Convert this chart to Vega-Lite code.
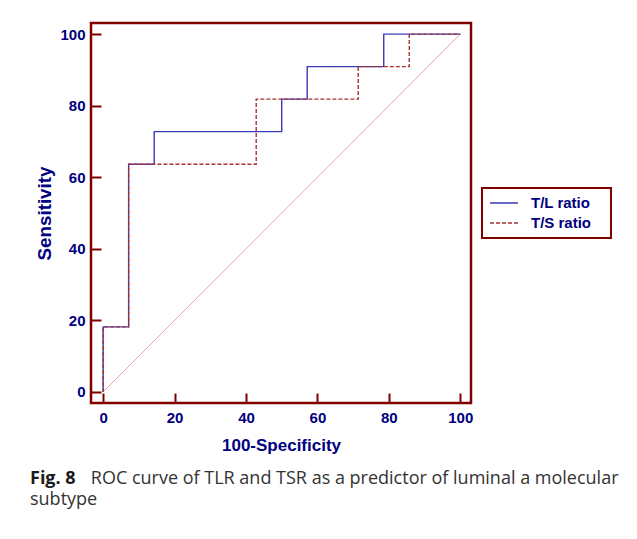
{
  "$schema": "https://vega.github.io/schema/vega-lite/v6.json",
  "autosize": "none",
  "padding": {"left": 91, "top": 23, "right": 166, "bottom": 136},
  "width": 380,
  "height": 380,
  "background": "white",
  "title": {
    "text": "Fig. 8",
    "subtitle": ["\u2060\u00a0\u00a0\u00a0\u00a0\u00a0\u00a0\u00a0\u00a0\u00a0\u00a0\u00a0\u00a0\u00a0ROC curve of TLR and TSR as a predictor of luminal a molecular", "subtype"],
    "orient": "bottom",
    "anchor": "start",
    "frame": "group",
    "dx": -61,
    "offset": 17,
    "font": "Open Sans",
    "fontSize": 18,
    "fontWeight": "bold",
    "color": "#1a1a1a",
    "subtitleFont": "Open Sans",
    "subtitleFontSize": 18,
    "subtitleFontWeight": "normal",
    "subtitleColor": "#333333",
    "subtitlePadding": -18,
    "subtitleLineHeight": 21
  },
  "config": {
    "view": {"stroke": "#800000", "strokeWidth": 2.5},
    "axis": {
      "domain": false,
      "grid": false,
      "tickColor": "#800000",
      "tickWidth": 2,
      "labelFont": "Liberation Sans",
      "labelFontSize": 15,
      "labelFontWeight": "bold",
      "labelColor": "#000080",
      "titleFont": "Liberation Sans",
      "titleFontSize": 17,
      "titleFontWeight": "bold",
      "titleColor": "#000080"
    },
    "legend": {
      "strokeColor": "#800000",
      "padding": 7,
      "symbolType": "M-2,0H2",
      "symbolSize": 196,
      "symbolStrokeWidth": 1.5,
      "symbolOffset": 7,
      "labelFont": "Liberation Sans",
      "labelFontSize": 15,
      "labelFontWeight": "bold",
      "labelColor": "#000080",
      "labelOffset": 19,
      "rowPadding": 4
    }
  },
  "datasets": {
    "roc": [
      {"series": "T/L ratio", "order": 1, "fpr": 0, "sens": 0},
      {"series": "T/L ratio", "order": 2, "fpr": 0, "sens": 18.18},
      {"series": "T/L ratio", "order": 3, "fpr": 7.14, "sens": 18.18},
      {"series": "T/L ratio", "order": 4, "fpr": 7.14, "sens": 63.64},
      {"series": "T/L ratio", "order": 5, "fpr": 14.29, "sens": 63.64},
      {"series": "T/L ratio", "order": 6, "fpr": 14.29, "sens": 72.73},
      {"series": "T/L ratio", "order": 7, "fpr": 50, "sens": 72.73},
      {"series": "T/L ratio", "order": 8, "fpr": 50, "sens": 81.82},
      {"series": "T/L ratio", "order": 9, "fpr": 57.14, "sens": 81.82},
      {"series": "T/L ratio", "order": 10, "fpr": 57.14, "sens": 90.91},
      {"series": "T/L ratio", "order": 11, "fpr": 78.57, "sens": 90.91},
      {"series": "T/L ratio", "order": 12, "fpr": 78.57, "sens": 100},
      {"series": "T/L ratio", "order": 13, "fpr": 100, "sens": 100},
      {"series": "T/S ratio", "order": 1, "fpr": 0, "sens": 0},
      {"series": "T/S ratio", "order": 2, "fpr": 0, "sens": 18.18},
      {"series": "T/S ratio", "order": 3, "fpr": 7.14, "sens": 18.18},
      {"series": "T/S ratio", "order": 4, "fpr": 7.14, "sens": 63.64},
      {"series": "T/S ratio", "order": 5, "fpr": 42.86, "sens": 63.64},
      {"series": "T/S ratio", "order": 6, "fpr": 42.86, "sens": 81.82},
      {"series": "T/S ratio", "order": 7, "fpr": 71.43, "sens": 81.82},
      {"series": "T/S ratio", "order": 8, "fpr": 71.43, "sens": 90.91},
      {"series": "T/S ratio", "order": 9, "fpr": 85.71, "sens": 90.91},
      {"series": "T/S ratio", "order": 10, "fpr": 85.71, "sens": 100},
      {"series": "T/S ratio", "order": 11, "fpr": 100, "sens": 100}
    ],
    "diag": [
      {"fpr": 0, "sens": 0},
      {"fpr": 100, "sens": 100}
    ]
  },
  "layer": [
    {
      "data": {"name": "diag"},
      "mark": {"type": "line", "color": "#e8a8a0", "strokeWidth": 1},
      "encoding": {
        "x": {"field": "fpr", "type": "quantitative"},
        "y": {"field": "sens", "type": "quantitative"}
      }
    },
    {
      "data": {"name": "roc"},
      "mark": {"type": "line", "strokeWidth": 1.4},
      "encoding": {
        "x": {
          "field": "fpr", "type": "quantitative",
          "scale": {"domain": [-3.4, 103], "nice": false, "zero": false},
          "axis": {
            "title": "100-Specificity",
            "values": [0,5,10,15,20,25,30,35,40,45,50,55,60,65,70,75,80,85,90,95,100],
            "labelExpr": "datum.value % 20 === 0 ? datum.label : ''",
            "tickSize": {"condition": {"test": "datum.value % 20 === 0", "value": -10}, "value": -5},
            "labelPadding": 17,
            "titlePadding": 12
          }
        },
        "y": {
          "field": "sens", "type": "quantitative",
          "scale": {"domain": [-3.1, 103.1], "nice": false, "zero": false},
          "axis": {
            "title": "Sensitivity",
            "titleFontSize": 18.8,
            "values": [0,5,10,15,20,25,30,35,40,45,50,55,60,65,70,75,80,85,90,95,100],
            "labelExpr": "datum.value % 20 === 0 ? datum.label : ''",
            "tickSize": {"condition": {"test": "datum.value % 20 === 0", "value": -10}, "value": -5},
            "labelPadding": 16,
            "titlePadding": 5
          }
        },
        "order": {"field": "order", "type": "quantitative"},
        "color": {
          "field": "series", "type": "nominal",
          "scale": {"domain": ["T/L ratio", "T/S ratio"], "range": ["#3a3ab8", "#a83232"]},
          "legend": {
            "title": null,
            "orient": "none",
            "legendX": 391,
            "legendY": 165,
            "labelExpr": "datum.label + '\u00a0\u00a0\u00a0\u2060'",
            "encode": {"legend": {"update": {"strokeWidth": {"value": 2}}}}
          }
        },
        "strokeDash": {
          "field": "series", "type": "nominal",
          "scale": {"domain": ["T/L ratio", "T/S ratio"], "range": [[1, 0], [4, 2]]},
          "legend": {
            "title": null,
            "orient": "none",
            "legendX": 391,
            "legendY": 165,
            "labelExpr": "datum.label + '\u00a0\u00a0\u00a0\u2060'",
            "encode": {"legend": {"update": {"strokeWidth": {"value": 2}}}}
          }
        }
      }
    }
  ]
}
